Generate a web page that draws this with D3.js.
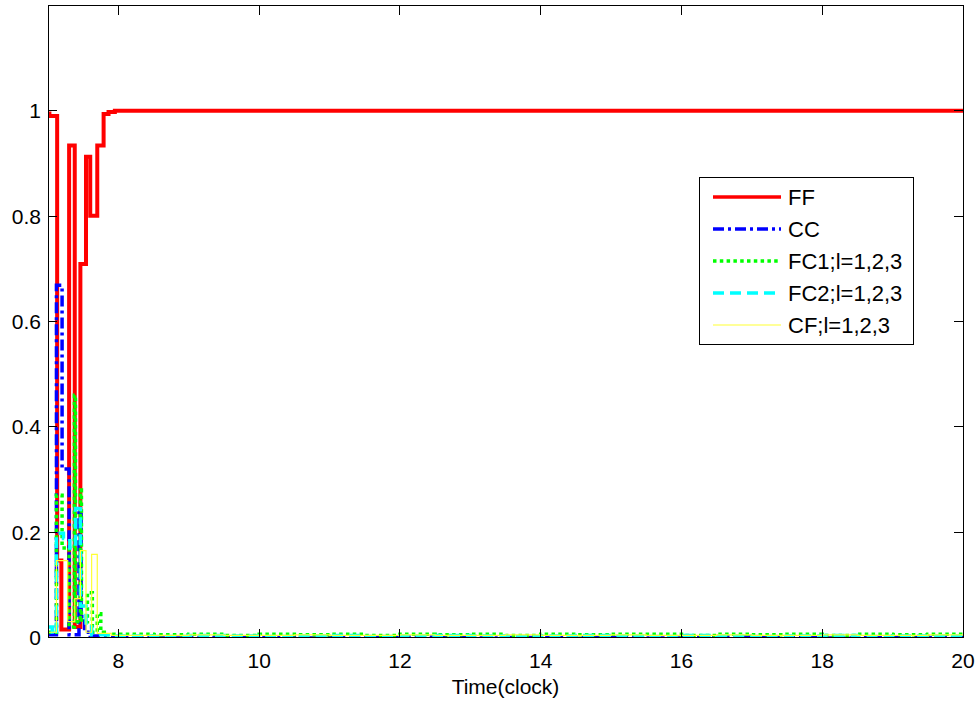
<!DOCTYPE html>
<html>
<head>
<meta charset="utf-8">
<script src="https://cdn.jsdelivr.net/npm/d3@7"></script>
<style>
  body { margin: 0; background: #fff; }
  text { font-family: "Liberation Sans", Arial, sans-serif; fill: #000; }
</style>
</head>
<body>
<div id="chart"></div>
<script>
// time axis (clock) and series values
const xTicks = [8, 10, 12, 14, 16, 18, 20];
const yTicks = [0, 0.2, 0.4, 0.6, 0.8, 1];
const seriesNames = ["FF", "CC", "FC1;l=1,2,3", "FC2;l=1,2,3", "CF;l=1,2,3"];

// shared tail (after the transient)
const tailT = [7.9, 8.5, 9, 9.5, 10, 10.5, 11, 11.5, 12, 12.5, 13, 13.5, 14, 14.5, 15, 15.5, 16, 16.5, 17, 17.5, 18, 18.5, 19, 19.5, 20];

const ffT = [7.0, 7.02, 7.13, 7.19, 7.30, 7.38, 7.46, 7.54, 7.60, 7.70, 7.79, 7.86, 7.95, 20];
const ffV = [0.995, 0.99, 0.146, 0.015, 0.934, 0.02, 0.709, 0.913, 0.801, 0.934, 0.994, 0.998, 1.0, 1.0];

const ccT = [7.0, 7.12, 7.20, 7.30, 7.44, 7.47, 7.52, 7.60, 7.70];
const ccV = [0.005, 0.669, 0.32, 0.005, 0.24, 0.04, 0.01, 0.003, 0.001];
const ccTail = [0.0, -0.001, 0.0, 0.001, 0.0, -0.001, 0.0, 0.0, 0.001, 0.0, -0.001, 0.0, 0.0, 0.001, 0.0, -0.001, 0.0, 0.001, 0.0, 0.0, -0.001, 0.0, 0.001, 0.0, 0.0];

const fc1T = [7.0, 7.12, 7.20, 7.30, 7.375, 7.39, 7.46, 7.475, 7.56, 7.63, 7.70, 7.75, 7.80];
const fc1V = [0.01, 0.27, 0.17, 0.02, 0.46, 0.03, 0.28, 0.03, 0.085, 0.01, 0.045, 0.01, 0.005];
const fc1Tail = [0.006, 0.005, 0.006, 0.004, 0.006, 0.005, 0.006, 0.004, 0.006, 0.005, 0.006, 0.004, 0.006, 0.005, 0.006, 0.006, 0.004, 0.006, 0.005, 0.006, 0.004, 0.006, 0.005, 0.006, 0.004];

const fc2T = [7.0, 7.06, 7.12, 7.22, 7.31, 7.39, 7.46, 7.54, 7.62];
const fc2V = [0.02, 0.006, 0.198, 0.188, 0.17, 0.245, 0.06, 0.02, 0.005];
const fc2Tail = [0.003, 0.002, 0.004, 0.003, 0.002, 0.003, 0.004, 0.002, 0.003, 0.004, 0.003, 0.002, 0.003, 0.004, 0.003, 0.002, 0.004, 0.003, 0.002, 0.003, 0.004, 0.002, 0.003, 0.003, 0.002];

const cfT = [7.0, 7.12, 7.28, 7.38, 7.46, 7.54, 7.62, 7.70];
const cfV = [0.01, 0.146, 0.03, 0.074, 0.165, 0.01, 0.158, 0.008];
const cfTail = [0.004, 0.004, 0.005, 0.004, 0.004, 0.005, 0.004, 0.004, 0.005, 0.004, 0.004, 0.005, 0.004, 0.004, 0.005, 0.004, 0.004, 0.005, 0.004, 0.004, 0.005, 0.004, 0.004, 0.005, 0.004];

const W = 979, H = 702;
const plot = { left: 48, right: 963, top: 5.5, bottom: 637.5 };

const x = d3.scaleLinear().domain([7, 20]).range([plot.left, plot.right]);
const y = d3.scaleLinear().domain([0, 1.2]).range([plot.bottom, plot.top]);

const toPts = (ts, vs) => ts.map((t, i) => [t, vs[i]]);
const withTail = (ts, vs, tail) => toPts(ts, vs).concat(toPts(tailT, tail));

const series = [
  { name: seriesNames[0], pts: toPts(ffT, ffV), color: "#ff0000", width: 4, dash: null },
  { name: seriesNames[1], pts: withTail(ccT, ccV, ccTail), color: "#0000ff", width: 3.5, dash: "11,4,3,4" },
  { name: seriesNames[2], pts: withTail(fc1T, fc1V, fc1Tail), color: "#00ff00", width: 3.5, dash: "3.5,3.3" },
  { name: seriesNames[3], pts: withTail(fc2T, fc2V, fc2Tail), color: "#00ffff", width: 3.5, dash: "11,6" },
  { name: seriesNames[4], pts: withTail(cfT, cfV, cfTail), color: "#ffff33", width: 1.2, dash: null }
];

const svg = d3.select("#chart").append("svg")
  .attr("width", W).attr("height", H);

svg.append("defs").append("clipPath").attr("id", "clip")
  .append("rect")
  .attr("x", plot.left).attr("y", plot.top)
  .attr("width", plot.right - plot.left).attr("height", plot.bottom - plot.top);

// lines
const line = d3.line()
  .curve(d3.curveStepAfter)
  .x(d => x(d[0]))
  .y(d => y(d[1]));

const g = svg.append("g").attr("clip-path", "url(#clip)");
series.forEach(s => {
  g.append("path")
    .attr("d", line(s.pts))
    .attr("fill", "none")
    .attr("stroke", s.color)
    .attr("stroke-width", s.width)
    .attr("stroke-dasharray", s.dash)
    .attr("stroke-linejoin", "miter");
});

// axes box and inward ticks
const tickLen = 9;
const axes = svg.append("g").attr("shape-rendering", "crispEdges");
axes.append("rect")
  .attr("x", plot.left).attr("y", plot.top)
  .attr("width", plot.right - plot.left).attr("height", plot.bottom - plot.top)
  .attr("fill", "none").attr("stroke", "#000").attr("stroke-width", 1);

xTicks.forEach(t => {
  axes.append("line").attr("x1", x(t)).attr("x2", x(t))
    .attr("y1", plot.bottom).attr("y2", plot.bottom - tickLen).attr("stroke", "#000");
  axes.append("line").attr("x1", x(t)).attr("x2", x(t))
    .attr("y1", plot.top).attr("y2", plot.top + tickLen).attr("stroke", "#000");
});
yTicks.forEach(v => {
  axes.append("line").attr("x1", plot.left).attr("x2", plot.left + tickLen)
    .attr("y1", y(v)).attr("y2", y(v)).attr("stroke", "#000");
  axes.append("line").attr("x1", plot.right).attr("x2", plot.right - tickLen)
    .attr("y1", y(v)).attr("y2", y(v)).attr("stroke", "#000");
});

// tick labels
svg.selectAll(".xlab").data(xTicks).enter().append("text")
  .attr("class", "xlab")
  .attr("x", d => x(d)).attr("y", plot.bottom + 30)
  .attr("text-anchor", "middle")
  .style("font-size", "21px")
  .text(d => d);

svg.selectAll(".ylab").data(yTicks).enter().append("text")
  .attr("class", "ylab")
  .attr("x", plot.left - 7).attr("y", d => y(d))
  .attr("dy", "0.36em")
  .attr("text-anchor", "end")
  .style("font-size", "21px")
  .text(d => d3.format("~g")(d));

svg.append("text")
  .attr("x", (plot.left + plot.right) / 2).attr("y", 694)
  .attr("text-anchor", "middle")
  .style("font-size", "21px")
  .text("Time(clock)");

// legend
const lg = svg.append("g").attr("transform", "translate(699,177)");
lg.append("rect")
  .attr("width", 214).attr("height", 167)
  .attr("fill", "#fff").attr("stroke", "#000").attr("stroke-width", 1)
  .attr("shape-rendering", "crispEdges");
series.forEach((s, i) => {
  const yy = 20 + i * 32;
  lg.append("line")
    .attr("x1", 14).attr("x2", 82)
    .attr("y1", yy).attr("y2", yy)
    .attr("stroke", s.color)
    .attr("stroke-width", s.width === 4 ? 3.5 : s.width)
    .attr("stroke-dasharray", s.dash);
  lg.append("text")
    .attr("x", 89).attr("y", yy)
    .attr("dy", "0.36em")
    .style("font-size", "22px")
    .text(s.name);
});
</script>
</body>
</html>
